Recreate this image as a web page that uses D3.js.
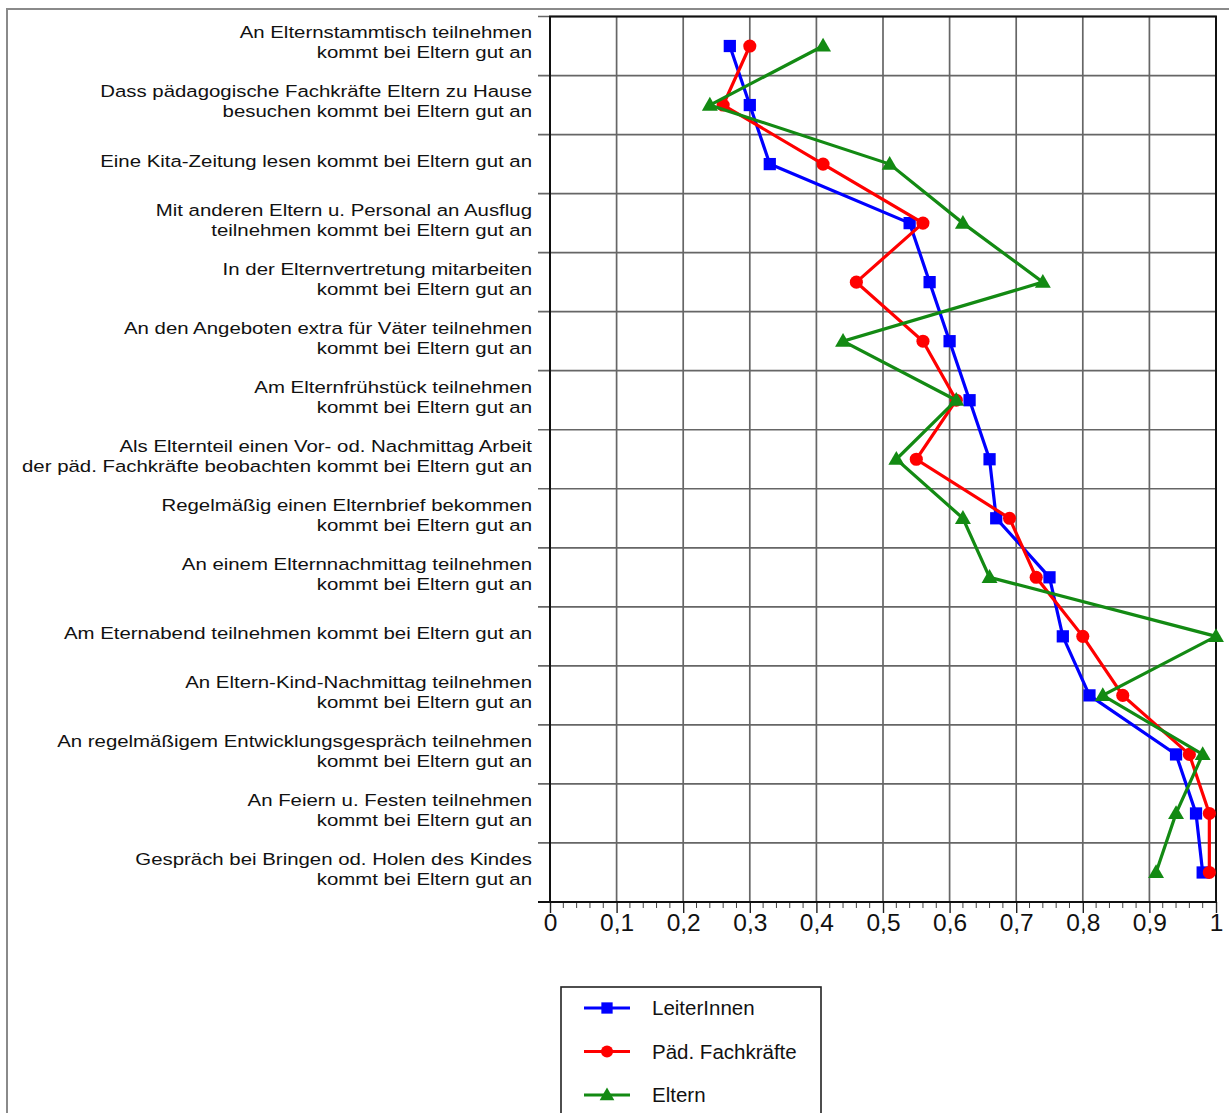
<!DOCTYPE html>
<html><head><meta charset="utf-8">
<script src="https://d3js.org/d3.v7.min.js"></script>
<style>html,body{margin:0;padding:0;background:#fff;}svg{display:block;}</style>
</head><body>
<script>
const categories = [
  "An Elternstammtisch teilnehmen\nkommt bei Eltern gut an",
  "Dass pädagogische Fachkräfte Eltern zu Hause\nbesuchen kommt bei Eltern gut an",
  "Eine Kita-Zeitung lesen kommt bei Eltern gut an",
  "Mit anderen Eltern u. Personal an Ausflug\nteilnehmen kommt bei Eltern gut an",
  "In der Elternvertretung mitarbeiten\nkommt bei Eltern gut an",
  "An den Angeboten extra für Väter teilnehmen\nkommt bei Eltern gut an",
  "Am Elternfrühstück teilnehmen\nkommt bei Eltern gut an",
  "Als Elternteil einen Vor- od. Nachmittag Arbeit\nder päd. Fachkräfte beobachten kommt bei Eltern gut an",
  "Regelmäßig einen Elternbrief bekommen\nkommt bei Eltern gut an",
  "An einem Elternnachmittag teilnehmen\nkommt bei Eltern gut an",
  "Am Eternabend teilnehmen kommt bei Eltern gut an",
  "An Eltern-Kind-Nachmittag teilnehmen\nkommt bei Eltern gut an",
  "An regelmäßigem Entwicklungsgespräch teilnehmen\nkommt bei Eltern gut an",
  "An Feiern u. Festen teilnehmen\nkommt bei Eltern gut an",
  "Gespräch bei Bringen od. Holen des Kindes\nkommt bei Eltern gut an"
];
const seriesNames = ["LeiterInnen", "Päd. Fachkräfte", "Eltern"];
const leiterInnen = [0.27,0.30,0.33,0.54,0.57,0.60,0.63,0.66,0.67,0.75,0.77,0.81,0.94,0.97,0.98];
const fachkraefte = [0.30,0.26,0.41,0.56,0.46,0.56,0.61,0.55,0.69,0.73,0.80,0.86,0.96,0.99,0.99];
const eltern      = [0.41,0.24,0.51,0.62,0.74,0.44,0.61,0.52,0.62,0.66,1.00,0.83,0.98,0.94,0.91];
const xTicks = [0,0.1,0.2,0.3,0.4,0.5,0.6,0.7,0.8,0.9,1];
const xTickLabels = ["0","0,1","0,2","0,3","0,4","0,5","0,6","0,7","0,8","0,9","1"];

const W = 1229, H = 1113;
const pLeft = 550, pRight = 1216, pTop = 16.5, pBottom = 902;
const font = "'Liberation Sans', Arial, Helvetica, sans-serif";

const series = [
  {name: seriesNames[0], values: leiterInnen, color: "#0000ff", shape: d3.symbolSquare, size: 150},
  {name: seriesNames[1], values: fachkraefte, color: "#ff0000", shape: d3.symbolCircle, size: 135},
  {name: seriesNames[2], values: eltern, color: "#138a13", shape: d3.symbolTriangle, size: 110}
];

const svg = d3.select("body").append("svg").attr("width", W).attr("height", H);

// outer frame
svg.append("rect").attr("x", 7).attr("y", 9).attr("width", 1300).attr("height", 1300)
  .attr("fill", "none").attr("stroke", "#8a8a8a").attr("stroke-width", 2);

const x = d3.scaleLinear().domain([0, 1]).range([pLeft, pRight]);
const y = d3.scaleBand().domain(d3.range(categories.length)).range([pTop, pBottom]).padding(0);
const yc = i => y(i) + y.bandwidth() / 2;

const g = svg.append("g");

// vertical grid
g.selectAll("line.vg").data(xTicks).join("line").attr("class", "vg")
  .attr("x1", d => x(d)).attr("x2", d => x(d)).attr("y1", pTop).attr("y2", pBottom)
  .attr("stroke", "#666").attr("stroke-width", 1.7);

// horizontal grid + left ticks at band boundaries
const bounds = d3.range(categories.length + 1).map(i => i === categories.length ? pBottom : y(i));
g.selectAll("line.hg").data(bounds).join("line").attr("class", "hg")
  .attr("x1", pLeft - 12).attr("x2", pRight).attr("y1", d => d).attr("y2", d => d)
  .attr("stroke", "#666").attr("stroke-width", 1.7);

// bottom axis with minor ticks
const xAxis = d3.axisBottom(x).tickValues(xTicks).tickSize(11)
  .tickFormat((d, i) => xTickLabels[i]);
const ax = svg.append("g").attr("transform", `translate(0,${pBottom})`).call(xAxis);
ax.select(".domain").remove();
ax.selectAll(".tick line").attr("stroke", "#222").attr("stroke-width", 1.4);
ax.selectAll(".tick text").attr("font-family", font).attr("font-size", 24.5).attr("fill", "#111").attr("dy", "0.6em");
const minor = d3.range(0, 1.0001, 0.02).filter(v => Math.abs(v * 10 - Math.round(v * 10)) > 1e-6);
svg.append("g").selectAll("line").data(minor).join("line")
  .attr("x1", d => x(d)).attr("x2", d => x(d)).attr("y1", pBottom).attr("y2", pBottom + 6)
  .attr("stroke", "#444").attr("stroke-width", 1);

// plot border
svg.append("rect").attr("x", pLeft).attr("y", pTop).attr("width", pRight - pLeft).attr("height", pBottom - pTop)
  .attr("fill", "none").attr("stroke", "#111").attr("stroke-width", 2);
svg.append("line").attr("x1", pLeft - 12).attr("x2", pLeft).attr("y1", pBottom).attr("y2", pBottom)
  .attr("stroke", "#111").attr("stroke-width", 2);

// category labels (glyphs in the reference are wide: horizontal stretch)
const lab = svg.append("g").attr("transform", "translate(532,0) scale(1.2,1)");
categories.forEach((c, i) => {
  const lines = c.split("\n");
  const t = lab.append("text").attr("text-anchor", "end").attr("font-family", font)
    .attr("font-size", 17).attr("fill", "#111");
  const n = lines.length;
  lines.forEach((ln, k) => {
    t.append("tspan").attr("x", 0)
      .attr("y", yc(i) - 3.5 + (k - (n - 1) / 2) * 20)
      .attr("dy", "0.35em").text(ln);
  });
});

// series lines and markers
const line = d3.line().x(d => x(d.v)).y(d => yc(d.i));
series.forEach(s => {
  const pts = s.values.map((v, i) => ({v, i}));
  svg.append("path").datum(pts).attr("d", line).attr("fill", "none")
    .attr("stroke", s.color).attr("stroke-width", 3.2).attr("stroke-linejoin", "miter");
  svg.append("g").selectAll("path").data(pts).join("path")
    .attr("d", d3.symbol().type(s.shape).size(s.size))
    .attr("transform", d => `translate(${x(d.v)},${yc(d.i) + (s.shape === d3.symbolTriangle ? 1 : 0)})`)
    .attr("fill", s.color);
});

// legend
const lg = svg.append("g");
lg.append("rect").attr("x", 561).attr("y", 987).attr("width", 260).attr("height", 200)
  .attr("fill", "#fff").attr("stroke", "#222").attr("stroke-width", 1.6);
series.forEach((s, i) => {
  const ly = 1008 + i * 43.5;
  lg.append("line").attr("x1", 584).attr("x2", 630).attr("y1", ly).attr("y2", ly)
    .attr("stroke", s.color).attr("stroke-width", 3.2);
  lg.append("path").attr("d", d3.symbol().type(s.shape).size(s.size * 0.85))
    .attr("transform", `translate(607,${ly + (s.shape === d3.symbolTriangle ? 1 : 0)})`).attr("fill", s.color);
  lg.append("text").attr("x", 652).attr("y", ly).attr("dy", "0.35em")
    .attr("font-family", font).attr("font-size", 20.5).attr("fill", "#111").text(s.name);
});
</script>
</body></html>
